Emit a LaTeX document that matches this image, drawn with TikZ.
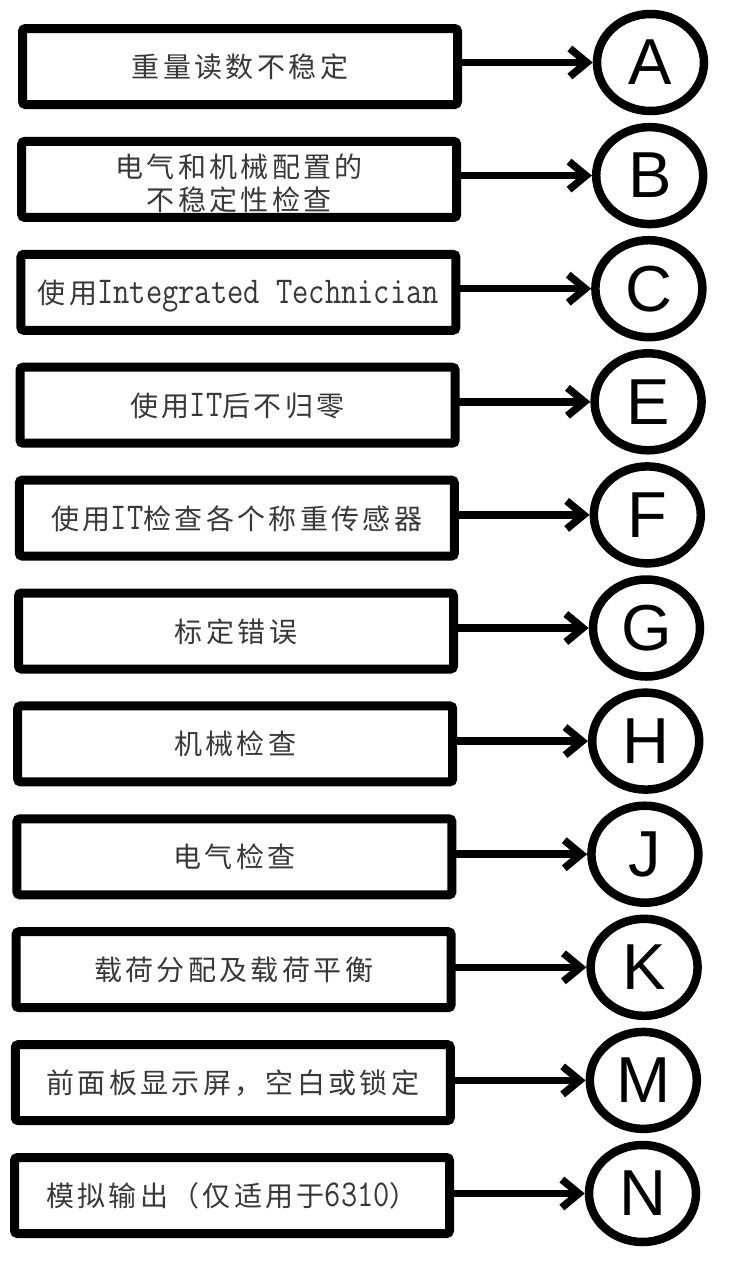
\documentclass[tikz,border=0pt]{standalone}
\usepackage{graphicx}
\usepackage{fontspec}
\newfontfamily\cjk[LetterSpace=12]{Noto Sans CJK SC}
\newfontfamily\letterfont{Liberation Sans}
\usetikzlibrary{shapes.geometric,arrows.meta}
\newcommand\lat[1]{\scalebox{1}[1.2]{\fontsize{31.6}{34}\selectfont\ttfamily #1}}
\tikzset{
  boxbase/.style={draw, line width=9pt, rounded corners=3pt, minimum width=435pt,
    minimum height=76pt, inner sep=0pt, text=black!78,
    font=\fontsize{28}{33}\selectfont\cjk},
  stepbox/.style={boxbase, text height=24pt, text depth=2pt},
  letter/.style={draw, ellipse, line width=8.5pt, minimum width=107pt,
    minimum height=97pt, inner sep=0pt, font=\fontsize{65}{70}\selectfont\letterfont},
  link/.style={line width=7.5pt, line cap=round, -{Straight Barb[length=17pt,width=28pt]}}
}
\begin{document}
\begin{tikzpicture}[x=1pt,y=-1pt]
\fill[white] (0,0) rectangle (730,1266);
\useasboundingbox (0,0) rectangle (730,1266);

\node[stepbox] (bA) at (240,66.5) {重量读数不稳定};
\node[boxbase, align=center] (bB) at (239.2,179.4) {\rule{0pt}{32pt}电气和机械配置的\\不稳定性检查};
\node[stepbox] (bC) at (238.4,292.3) {使用\lat{Integrated Technician}};
\node[stepbox] (bE) at (237.6,405.2) {使用\lat{IT}后不归零};
\node[stepbox] (bF) at (236.8,518.1) {使用\lat{IT}检查各个称重传感器};
\node[stepbox] (bG) at (236.0,631.0) {标定错误};
\node[stepbox] (bH) at (235.2,743.9) {机械检查};
\node[stepbox] (bJ) at (234.4,856.8) {电气检查};
\node[stepbox] (bK) at (233.6,969.7) {载荷分配及载荷平衡};
\node[stepbox] (bM) at (232.8,1082.6) {前面板显示屏，空白或锁定};
\node[stepbox] (bN) at (232.0,1195.5) {模拟输出（仅适用于\lat{6310}）};

\node[letter] (cA) at (650.5,62.5) {A};
\node[letter] (cB) at (649.7,175.6) {B};
\node[letter] (cC) at (648.9,288.7) {C};
\node[letter] (cE) at (648.1,401.8) {E};
\node[letter] (cF) at (647.3,514.9) {F};
\node[letter] (cG) at (646.5,628.0) {G};
\node[letter] (cH) at (645.7,741.1) {H};
\node[letter] (cJ) at (644.9,854.2) {J};
\node[letter] (cK) at (644.1,967.3) {K};
\node[letter] (cM) at (643.3,1080.4) {M};
\node[letter] (cN) at (642.5,1193.5) {N};

\foreach \r in {A,B,C,E,F,G,H,J,K,M,N}
  \draw[link] (b\r.east |- c\r.west) -- (c\r.west);
\end{tikzpicture}
\end{document}
